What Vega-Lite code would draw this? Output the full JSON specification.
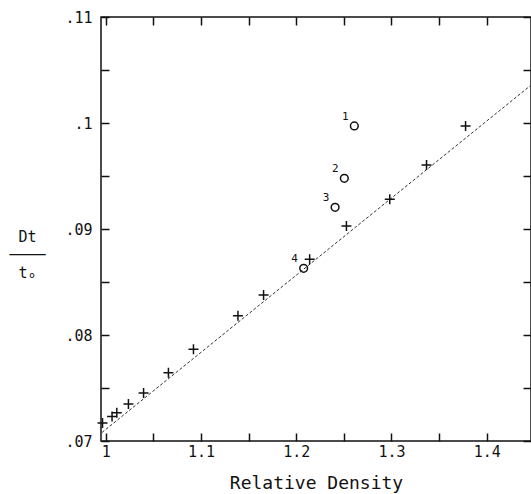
{
  "$schema": "https://vega.github.io/schema/vega-lite/v6.json",
  "width": 430,
  "height": 424,
  "autosize": "none",
  "padding": {"left": 101, "top": 17, "right": 0, "bottom": 53},
  "background": "white",
  "config": {
    "view": {"stroke": "#111", "strokeWidth": 1.5},
    "axis": {
      "grid": false,
      "domain": false,
      "ticks": true,
      "tickColor": "#111",
      "tickWidth": 1.5,
      "tickSize": 8,
      "offset": -8,
      "labelColor": "#111",
      "titleColor": "#111",
      "labelFont": "DejaVu Sans Mono",
      "titleFont": "DejaVu Sans Mono",
      "labelFontSize": 15,
      "labelFlush": false,
      "labelOverlap": false,
      "titleFontWeight": "normal"
    }
  },
  "datasets": {
    "fit": [
      {"rd": 0.996, "v": 0.0708},
      {"rd": 1.4465, "v": 0.10357}
    ],
    "plus": [
      {"rd": 0.9966, "v": 0.0717},
      {"rd": 1.0066, "v": 0.07231},
      {"rd": 1.0116, "v": 0.07267},
      {"rd": 1.0238, "v": 0.07349},
      {"rd": 1.0397, "v": 0.07453},
      {"rd": 1.0658, "v": 0.07644},
      {"rd": 1.0921, "v": 0.07865},
      {"rd": 1.1388, "v": 0.08182},
      {"rd": 1.1657, "v": 0.08377},
      {"rd": 1.2141, "v": 0.08714},
      {"rd": 1.2527, "v": 0.09028},
      {"rd": 1.2982, "v": 0.0928},
      {"rd": 1.3368, "v": 0.09604},
      {"rd": 1.3778, "v": 0.09972}
    ],
    "circles": [
      {"rd": 1.261, "v": 0.09972, "label": "1"},
      {"rd": 1.2505, "v": 0.09478, "label": "2"},
      {"rd": 1.2408, "v": 0.09205, "label": "3"},
      {"rd": 1.2078, "v": 0.08629, "label": "4"}
    ]
  },
  "layer": [
    {
      "data": {"name": "fit"},
      "mark": {"type": "line", "stroke": "#333", "strokeWidth": 1, "strokeDash": [3, 2]},
      "encoding": {
        "x": {
          "field": "rd",
          "type": "quantitative",
          "scale": {"domain": [0.995, 1.4465], "zero": false, "nice": false},
          "axis": {
            "orient": "bottom",
            "values": [1, 1.05, 1.1, 1.15, 1.2, 1.25, 1.3, 1.35, 1.4, 1.45],
            "labelExpr": "abs(datum.value*10 - round(datum.value*10)) < 0.01 ? format(datum.value, '.1~f') : ''",
            "labelPadding": 3,
            "labelBaseline": "top",
            "title": "Relative Density",
            "titleFontSize": 18,
            "titleX": 215,
            "titleY": 50,
            "titleAlign": "center",
            "titleBaseline": "middle"
          }
        },
        "y": {
          "field": "v",
          "type": "quantitative",
          "scale": {"domain": [0.07, 0.11], "zero": false, "nice": false},
          "axis": {
            "orient": "left",
            "values": [0.07, 0.075, 0.08, 0.085, 0.09, 0.095, 0.1, 0.105, 0.11],
            "labelExpr": "abs(datum.value*100 - round(datum.value*100)) < 0.01 ? replace(format(datum.value, '.2~f'), '0.', '.') : ''",
            "labelPadding": 9,
            "labelBaseline": "middle",
            "title": ["Dt", "────", "tₒ"],
            "titleFontSize": 15,
            "titleLineHeight": 18,
            "titleAngle": 0,
            "titleX": -82,
            "titleY": 219,
            "titleAlign": "center",
            "titleBaseline": "middle"
          }
        }
      }
    },
    {
      "data": {"name": "plus"},
      "mark": {"type": "point", "shape": "M-1,0H1M0,-1V1", "filled": false, "stroke": "#111", "strokeWidth": 1.5, "size": 100, "opacity": 1},
      "encoding": {
        "x": {
          "field": "rd",
          "type": "quantitative",
          "axis": {
            "orient": "top",
            "values": [1, 1.05, 1.1, 1.15, 1.2, 1.25, 1.3, 1.35, 1.4, 1.45],
            "labels": false,
            "title": null
          }
        },
        "y": {
          "field": "v",
          "type": "quantitative",
          "axis": {
            "orient": "right",
            "values": [0.07, 0.075, 0.08, 0.085, 0.09, 0.095, 0.1, 0.105, 0.11],
            "labels": false,
            "title": null
          }
        }
      }
    },
    {
      "data": {"name": "circles"},
      "mark": {"type": "point", "shape": "circle", "filled": false, "stroke": "#111", "strokeWidth": 1.5, "size": 60, "opacity": 1},
      "encoding": {
        "x": {"field": "rd", "type": "quantitative", "axis": null},
        "y": {"field": "v", "type": "quantitative", "axis": null}
      }
    },
    {
      "data": {"name": "circles"},
      "mark": {"type": "text", "font": "DejaVu Sans Mono", "fontSize": 11, "color": "#111", "dx": -9, "dy": -9, "align": "center", "baseline": "middle"},
      "encoding": {
        "x": {"field": "rd", "type": "quantitative", "axis": null},
        "y": {"field": "v", "type": "quantitative", "axis": null},
        "text": {"field": "label"}
      }
    }
  ],
  "resolve": {"axis": {"x": "independent", "y": "independent"}}
}
